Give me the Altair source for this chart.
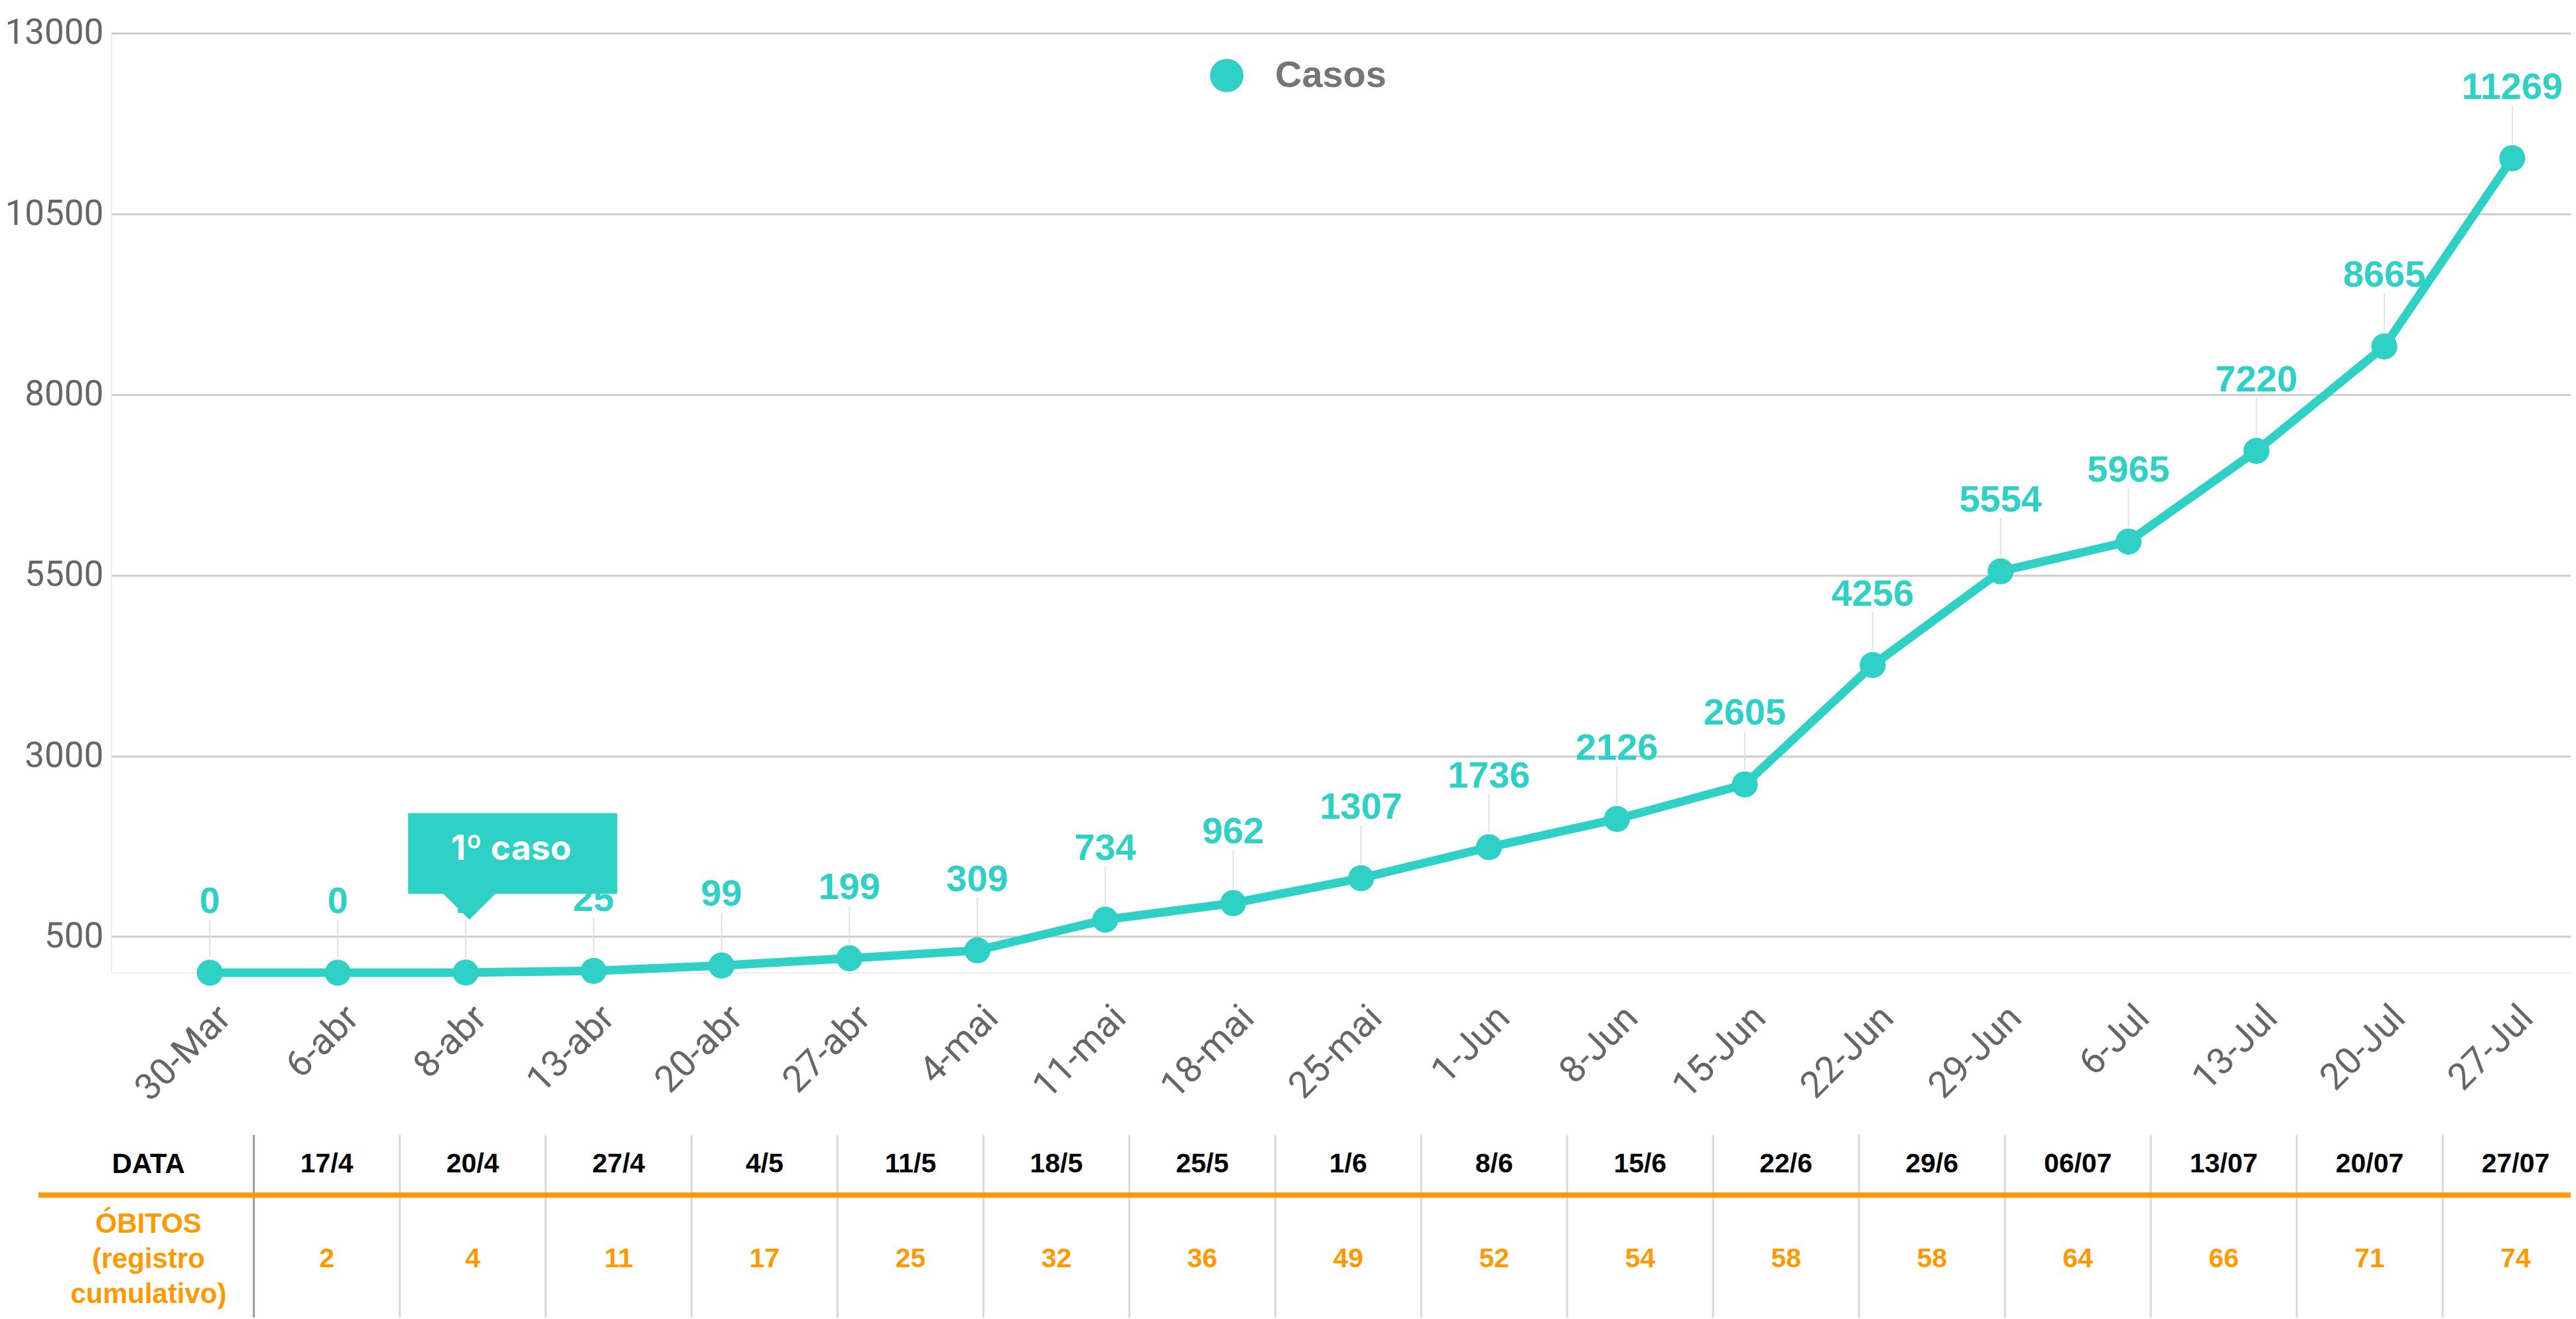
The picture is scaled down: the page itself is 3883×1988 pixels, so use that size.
import altair as alt
import pandas as pd

# ---------------- data ----------------
datas = ["30-Mar", "6-abr", "8-abr", "13-abr", "20-abr", "27-abr", "4-mai",
         "11-mai", "18-mai", "25-mai", "1-Jun", "8-Jun", "15-Jun", "22-Jun",
         "29-Jun", "6-Jul", "13-Jul", "20-Jul", "27-Jul"]
casos = [0, 0, 1, 25, 99, 199, 309, 734, 962, 1307, 1736, 2126, 2605, 4256,
         5554, 5965, 7220, 8665, 11269]
y_ticks = [500, 3000, 5500, 8000, 10500, 13000]

anot_data = ["8-abr"]
anot_casos = [1]
anot_texto = ["1º caso"]

tab_datas = ["17/4", "20/4", "27/4", "4/5", "11/5", "18/5", "25/5", "1/6",
             "8/6", "15/6", "22/6", "29/6", "06/07", "13/07", "20/07", "27/07"]
obitos = [2, 4, 11, 17, 25, 32, 36, 49, 52, 54, 58, 58, 64, 66, 71, 74]
row_names = ["DATA", "ÓBITOS"]
row_header = ["DATA", "ÓBITOS\n(registro\ncumulativo)"]

TEAL = "#2fd1c6"
ORANGE = "#ff9900"
GRAY = "#666666"

W, H = 3715, 1419

# ---------------- main chart ----------------
df = pd.DataFrame({"data": datas, "casos": casos, "serie": "Casos"})
df["rotulo"] = df["casos"].astype(str)
anot = pd.DataFrame({"data": anot_data, "casos": anot_casos, "texto": anot_texto})

x_main = alt.X(
    "data:N",
    scale=alt.Scale(type="point", domain=datas, padding=0.614, align=0.628),
    axis=alt.Axis(title=None, labelAngle=315, labelAlign="right", labelBaseline="middle",
                  labelFont="Roboto", labelFontSize=56, labelColor=GRAY,
                  labelPadding=59, labelOffset=22, domain=False, ticks=False,
                  grid=False, labelOverlap=False, labelLimit=0),
)
y_main = alt.Y(
    "casos:Q",
    scale=alt.Scale(domain=[0, 13000], nice=False, zero=False),
    axis=alt.Axis(title=None, values=y_ticks, labelFont="Roboto", labelFontSize=53,
                  labelColor=GRAY, labelPadding=12, domain=False, ticks=False,
                  grid=True, gridColor="#cccccc", gridWidth=3, format="d", labelLimit=0),
)

base = alt.Chart(df)

leaders = base.mark_rule(color="#e2e2e2", strokeWidth=2, yOffset=-80, y2Offset=-22).encode(
    x=x_main, y=y_main, y2=alt.Y2("casos:Q")
)
line = base.mark_line(color=TEAL, strokeWidth=13).encode(x=x_main, y=y_main)
points = base.mark_circle(size=1550, opacity=1).encode(
    x=x_main, y=y_main,
    color=alt.Color(
        "serie:N",
        scale=alt.Scale(domain=["Casos"], range=[TEAL]),
        legend=alt.Legend(title=None, orient="none", legendX=1657, legendY=36,
                          symbolType="circle", symbolSize=2550, symbolOpacity=1,
                          symbolStrokeWidth=0, labelFont="Liberation Sans",
                          labelFontWeight="bold", labelFontSize=56, labelColor="#757575",
                          labelOffset=45, labelLimit=0),
    ),
)
labels = base.mark_text(font="Liberation Sans", fontWeight="bold", fontSize=56,
                        color=TEAL, dy=-90, baseline="alphabetic", align="center").encode(
    x=x_main, y=y_main, text="rotulo:N"
)

abase = alt.Chart(anot)
box = abase.mark_rect(color=TEAL, opacity=1, xOffset=-87, x2Offset=229,
                      yOffset=-241, y2Offset=-119).encode(
    x=x_main, x2=alt.X2("data:N"), y=y_main, y2=alt.Y2("casos:Q")
)
tri = abase.mark_point(shape="M-1,-0.5L1,-0.5L0,0.5Z", size=6241, filled=True,
                       opacity=1, color=TEAL, strokeWidth=0,
                       xOffset=5.5, yOffset=-99.5).encode(x=x_main, y=y_main)
box_text = abase.mark_text(font="Inter", fontWeight="bold", fontSize=52, color="white",
                           dx=69, dy=-170, baseline="alphabetic", align="center").encode(
    x=x_main, y=y_main, text="texto:N"
)

main = alt.layer(leaders, line, points, labels, box, tri, box_text)

# ---------------- table ----------------
col_domain = ["DATA"] + tab_datas
tab_df = pd.DataFrame({
    "col": tab_datas * 2,
    "row": [row_names[0]] * len(tab_datas) + [row_names[1]] * len(obitos),
    "texto": tab_datas + [str(v) for v in obitos],
})
head_df = pd.DataFrame({"col": ["DATA"], "row": [row_names[0]], "texto": [row_header[0]]})
obit_head_df = pd.DataFrame({"col": ["DATA"], "row": [row_names[1]], "texto": [row_header[1]]})
sep_df = pd.DataFrame({"col": tab_datas})

tab_scale = alt.Scale(type="band", domain=col_domain, range=[-5, 3742],
                      paddingInner=0, paddingOuter=0)
x_tab = alt.X("col:N", scale=tab_scale, axis=None)
x_tab_edge = alt.X("col:N", bandPosition=0, scale=tab_scale, axis=None)
y_tab = alt.Y("row:N", scale=alt.Scale(type="point", domain=row_names, range=[1709, 1852],
                                       padding=0), axis=None)

seps = alt.Chart(sep_df).mark_rule(strokeWidth=3).encode(
    x=x_tab_edge, y=alt.value(1664), y2=alt.value(1940),
    color=alt.condition(alt.datum.col == tab_datas[0], alt.value("#999999"), alt.value("#d9d9d9")),
)
orange_line = alt.Chart(pd.DataFrame({"k": [0]})).mark_rule(color=ORANGE, strokeWidth=8).encode(
    x=alt.value(-110), x2=alt.value(3720), y=alt.value(1755)
)
cells = alt.Chart(tab_df).mark_text(font="Liberation Sans", fontWeight="bold", fontSize=41,
                                    baseline="middle", align="center").encode(
    x=x_tab, y=y_tab, text="texto:N",
    color=alt.condition(alt.datum.row == row_names[0], alt.value("black"), alt.value(ORANGE)),
)
head = alt.Chart(head_df).mark_text(font="Liberation Sans", fontWeight="bold", fontSize=42,
                                    baseline="middle", align="center", dx=-49,
                                    color="black").encode(
    x=x_tab, y=y_tab, text="texto:N"
)
obit_head = alt.Chart(obit_head_df).mark_text(font="Liberation Sans", fontWeight="bold",
                                              fontSize=42, baseline="middle", align="center",
                                              dx=-49, dy=-53, lineBreak="\n", lineHeight=53,
                                              color=ORANGE).encode(
    x=x_tab, y=y_tab, text="texto:N"
)

table = alt.layer(seps, orange_line, cells, head, obit_head)

chart = alt.layer(main, table).resolve_scale(x="independent", y="independent").properties(
    width=W, height=H,
    autosize=alt.AutoSizeParams(type="none"),
    padding={"left": 160, "top": 40, "right": 0, "bottom": 520},
).configure_view(stroke=None).configure(background="white")

chart.save("out.html", embed_options={"renderer": "svg", "actions": False})
